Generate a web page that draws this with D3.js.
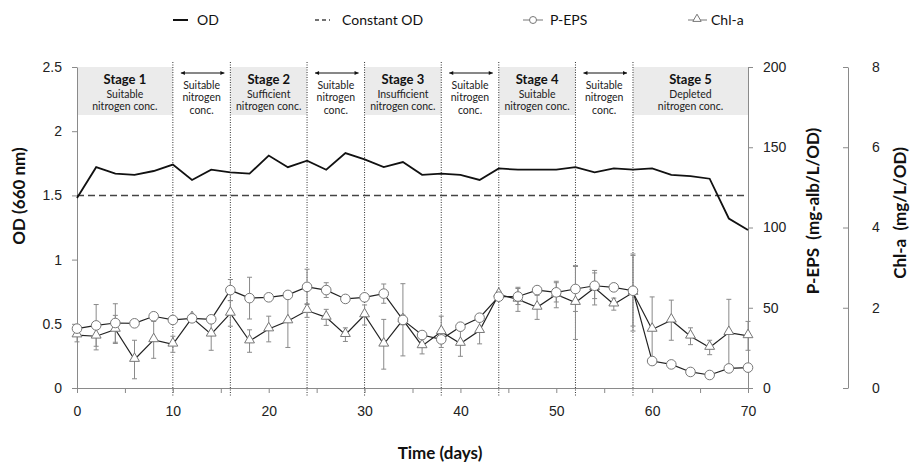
<!DOCTYPE html>
<html>
<head>
<meta charset="utf-8">
<script src="https://cdn.jsdelivr.net/npm/d3@7"></script>
<style>
  body { margin: 0; background: #fff; }
  svg { font-family: Lato, "Open Sans", sans-serif; }
  .axis path, .axis line { stroke: #8a8a8a; }
  .axis text { fill: #222; font-size: 14px; }
</style>
</head>
<body>
<script>
// sampling days
var days = [0, 2, 4, 6, 8, 10, 12, 14, 16, 18, 20, 22, 24, 26, 28, 30, 32, 34,
            36, 38, 40, 42, 44, 46, 48, 50, 52, 54, 56, 58, 60, 62, 64, 66, 68, 70];

// OD (660 nm)
var od = [1.48, 1.72, 1.67, 1.66, 1.69, 1.74, 1.62, 1.70, 1.68, 1.67, 1.81, 1.72,
          1.77, 1.70, 1.83, 1.78, 1.72, 1.76, 1.66, 1.67, 1.66, 1.62, 1.71, 1.70,
          1.70, 1.70, 1.72, 1.68, 1.71, 1.70, 1.71, 1.66, 1.65, 1.63, 1.32, 1.23];
var constantOD = 1.5;

// P-EPS (mg-alb/L/OD)
var eps = [37, 39, 40.5, 40.3, 44.7, 42.4, 43.4, 42.8, 61, 56, 56.5, 58,
           63, 61, 55.5, 56.5, 58.8, 42.4, 33, 30.3, 38.2, 43.8, 56.9, 57,
           61, 59.6, 61.7, 63.7, 62.7, 60.6, 16.8, 14.7, 10, 8.1, 12.2, 12.7];
var epsErr = [2, 13, 12, 1, 1, 1, 1, 1, 6.6, 13, 1, 1, 11, 4.6, 1, 1, 6, 3,
              1, 1, 1, 1, 1, 5, 1, 6, 14, 8, 1, 22, 1, 1, 1, 1, 1, 1];

// Chl-a (mg/L/OD)
var chl = [1.32, 1.29, 1.46, 0.71, 1.20, 1.09, 1.75, 1.34, 1.86, 1.17, 1.47, 1.67,
           1.93, 1.76, 1.33, 1.82, 1.09, 1.70, 1.05, 1.40, 1.11, 1.43, 2.33, 2.21,
           2.01, 2.33, 2.13, 2.50, 2.09, 2.38, 1.46, 1.69, 1.29, 1.01, 1.38, 1.30];
var chlErr = [0.17, 0.34, 0.35, 0.48, 0.46, 0.2, 0.08, 0.4, 0.32, 0.28, 0.32, 0.66,
              0.17, 0.2, 0.17, 0.25, 0.62, 0.9, 0.2, 0.39, 0.32, 0.33, 0.08, 0.3,
              0.3, 0.33, 0.92, 0.43, 0.15, 0.96, 0.81, 0.5, 0.21, 0.18, 0.83, 0.36];

// stages
var stageNames = ["Stage 1", "Stage 2", "Stage 3", "Stage 4", "Stage 5"];
var stageStart = [0, 16, 30, 44, 58];
var stageEnd = [10, 24, 38, 52, 70];
var stageDesc = [["Suitable", "nitrogen conc."], ["Sufficient", "nitrogen conc."],
                 ["Insufficient", "nitrogen conc."], ["Suitable", "nitrogen conc."],
                 ["Depleted", "nitrogen conc."]];
var gapStart = [10, 24, 38, 52];
var gapEnd = [16, 30, 44, 58];
var gapText = ["Suitable", "nitrogen", "conc."];
var boundaries = [10, 16, 24, 30, 38, 44, 52, 58];

var odTicks = [0, 0.5, 1, 1.5, 2, 2.5];
var epsTicks = [0, 50, 100, 150, 200];
var chlTicks = [0, 2, 4, 6, 8];
var dayTicks = [0, 5, 10, 15, 20, 25, 30, 35, 40, 45, 50, 55, 60, 65, 70];

var W = 915, H = 463;
var plotL = 77, plotR = 748, plotT = 67, plotB = 388;

var svg = d3.select("body").append("svg").attr("width", W).attr("height", H);

var x = d3.scaleLinear().domain([0, 70]).range([plotL, plotR]);
var yOD = d3.scaleLinear().domain([0, 2.5]).range([plotB, plotT]);
var yEPS = d3.scaleLinear().domain([0, 200]).range([plotB, plotT]);
var yChl = d3.scaleLinear().domain([0, 8]).range([plotB, plotT]);

// stage boxes
stageNames.forEach(function(name, i) {
  var x0 = x(stageStart[i]), x1 = x(stageEnd[i]), cx = (x0 + x1) / 2;
  svg.append("rect").attr("x", x0).attr("y", plotT).attr("width", x1 - x0)
    .attr("height", 48).attr("fill", "#ebebeb");
  svg.append("text").attr("x", cx).attr("y", 83.5).attr("text-anchor", "middle")
    .attr("font-size", 13).attr("font-weight", "bold").attr("fill", "#111").text(name);
  stageDesc[i].forEach(function(t, j) {
    svg.append("text").attr("x", cx).attr("y", 98 + j * 11.7).attr("text-anchor", "middle")
      .attr("font-size", 10.5).attr("fill", "#222").text(t);
  });
});

// gaps between stages
gapStart.forEach(function(s, i) {
  var x0 = x(s) + 8, x1 = x(gapEnd[i]) - 6, cx = (x(s) + x(gapEnd[i])) / 2;
  var ay = 73;
  svg.append("line").attr("x1", x0).attr("x2", x1).attr("y1", ay).attr("y2", ay)
    .attr("stroke", "#111").attr("stroke-width", 1);
  svg.append("path").attr("d", "M" + x0 + "," + ay + "l4,-2v4z").attr("fill", "#111");
  svg.append("path").attr("d", "M" + x1 + "," + ay + "l-4,-2v4z").attr("fill", "#111");
  gapText.forEach(function(t, j) {
    svg.append("text").attr("x", cx).attr("y", 89 + j * 12.3).attr("text-anchor", "middle")
      .attr("font-size", 10.5).attr("fill", "#222").text(t);
  });
});

// stage boundaries
svg.selectAll("line.bound").data(boundaries).enter().append("line")
  .attr("class", "bound")
  .attr("x1", function(d) { return x(d); }).attr("x2", function(d) { return x(d); })
  .attr("y1", 62).attr("y2", 396)
  .attr("stroke", "#333").attr("stroke-width", 1).attr("stroke-dasharray", "1,1.5");

// axes
svg.append("g").attr("class", "axis").attr("transform", "translate(" + plotL + ",0)")
  .call(d3.axisLeft(yOD).tickValues(odTicks).tickSizeInner(5).tickSizeOuter(0).tickPadding(10)
    .tickFormat(function(d) { return String(d); }));
svg.append("g").attr("class", "axis").attr("transform", "translate(0," + plotB + ")")
  .call(d3.axisBottom(x).tickValues(dayTicks).tickSizeInner(5).tickSizeOuter(0).tickPadding(13)
    .tickFormat(function(d) { return d % 10 === 0 ? String(d) : ""; }));
svg.append("g").attr("class", "axis").attr("transform", "translate(" + plotR + ",0)")
  .call(d3.axisRight(yEPS).tickValues(epsTicks).tickSizeInner(5).tickSizeOuter(0).tickPadding(10));
svg.append("g").attr("class", "axis").attr("transform", "translate(848,0)")
  .call(d3.axisRight(yChl).tickValues(chlTicks).tickSizeInner(-5).tickSizeOuter(0).tickPadding(24));

// axis titles
svg.append("text").attr("transform", "translate(25,196) rotate(-90)").attr("text-anchor", "middle")
  .attr("font-size", 17).attr("font-weight", "bold").attr("fill", "#111").text("OD (660 nm)");
svg.append("text").attr("transform", "translate(819,211) rotate(-90)").attr("text-anchor", "middle")
  .attr("font-size", 17).attr("font-weight", "bold").attr("fill", "#111")
  .style("white-space", "pre").text("P-EPS  (mg-alb/L/OD)");
svg.append("text").attr("transform", "translate(906,213) rotate(-90)").attr("text-anchor", "middle")
  .attr("font-size", 17).attr("font-weight", "bold").attr("fill", "#111")
  .style("white-space", "pre").text("Chl-a  (mg/L/OD)");
svg.append("text").attr("x", 440).attr("y", 459).attr("text-anchor", "middle")
  .attr("font-size", 17).attr("font-weight", "bold").attr("fill", "#111").text("Time (days)");

// constant OD
svg.append("line").attr("x1", x(0)).attr("x2", x(70))
  .attr("y1", yOD(constantOD)).attr("y2", yOD(constantOD))
  .attr("stroke", "#444").attr("stroke-width", 1.5).attr("stroke-dasharray", "7,4");

// OD line
svg.append("path").datum(od)
  .attr("d", d3.line().x(function(d, i) { return x(days[i]); }).y(function(d) { return yOD(d); }))
  .attr("fill", "none").attr("stroke", "#111").attr("stroke-width", 1.8);

// error bars
function errorBars(vals, errs, y) {
  var g = svg.append("g").attr("stroke", "#8a8a8a").attr("stroke-width", 1);
  vals.forEach(function(v, i) {
    var cx = x(days[i]), y0 = y(v - errs[i]), y1 = y(v + errs[i]);
    g.append("line").attr("x1", cx).attr("x2", cx).attr("y1", y0).attr("y2", y1);
    g.append("line").attr("x1", cx - 2.5).attr("x2", cx + 2.5).attr("y1", y0).attr("y2", y0);
    g.append("line").attr("x1", cx - 2.5).attr("x2", cx + 2.5).attr("y1", y1).attr("y2", y1);
  });
}
errorBars(eps, epsErr, yEPS);
errorBars(chl, chlErr, yChl);

// series lines
svg.append("path").datum(eps)
  .attr("d", d3.line().x(function(d, i) { return x(days[i]); }).y(function(d) { return yEPS(d); }))
  .attr("fill", "none").attr("stroke", "#222").attr("stroke-width", 1.2);
svg.append("path").datum(chl)
  .attr("d", d3.line().x(function(d, i) { return x(days[i]); }).y(function(d) { return yChl(d); }))
  .attr("fill", "none").attr("stroke", "#222").attr("stroke-width", 1.2);

// markers
var tri = d3.symbol().type(d3.symbolTriangle).size(42);
svg.selectAll("path.tri").data(chl).enter().append("path").attr("class", "tri")
  .attr("d", tri)
  .attr("transform", function(d, i) { return "translate(" + x(days[i]) + "," + (yChl(d) - 1) + ")"; })
  .attr("fill", "#fff").attr("stroke", "#777").attr("stroke-width", 1);
svg.selectAll("circle.eps").data(eps).enter().append("circle").attr("class", "eps")
  .attr("cx", function(d, i) { return x(days[i]); })
  .attr("cy", function(d) { return yEPS(d); })
  .attr("r", 4.8).attr("fill", "#fff").attr("stroke", "#777").attr("stroke-width", 1);

// legend
var ly = 20;
var lg = svg.append("g");
lg.append("line").attr("x1", 173).attr("x2", 188).attr("y1", ly).attr("y2", ly)
  .attr("stroke", "#111").attr("stroke-width", 2);
lg.append("text").attr("x", 197).attr("y", ly + 5).attr("font-size", 14).attr("fill", "#111").text("OD");
lg.append("line").attr("x1", 315).attr("x2", 330).attr("y1", ly).attr("y2", ly)
  .attr("stroke", "#444").attr("stroke-width", 1.5).attr("stroke-dasharray", "4,3");
lg.append("text").attr("x", 342).attr("y", ly + 5).attr("font-size", 14).attr("fill", "#111").text("Constant OD");
lg.append("line").attr("x1", 523).attr("x2", 543).attr("y1", ly).attr("y2", ly)
  .attr("stroke", "#777").attr("stroke-width", 1);
lg.append("circle").attr("cx", 533).attr("cy", ly).attr("r", 3.5)
  .attr("fill", "#fff").attr("stroke", "#777");
lg.append("text").attr("x", 550).attr("y", ly + 5).attr("font-size", 14).attr("fill", "#111").text("P-EPS");
lg.append("line").attr("x1", 688).attr("x2", 707).attr("y1", ly).attr("y2", ly)
  .attr("stroke", "#777").attr("stroke-width", 1);
lg.append("path").attr("d", d3.symbol().type(d3.symbolTriangle).size(30))
  .attr("transform", "translate(697," + (ly - 1) + ")")
  .attr("fill", "#fff").attr("stroke", "#777");
lg.append("text").attr("x", 711).attr("y", ly + 5).attr("font-size", 14).attr("fill", "#111").text("Chl-a");
</script>
</body>
</html>
